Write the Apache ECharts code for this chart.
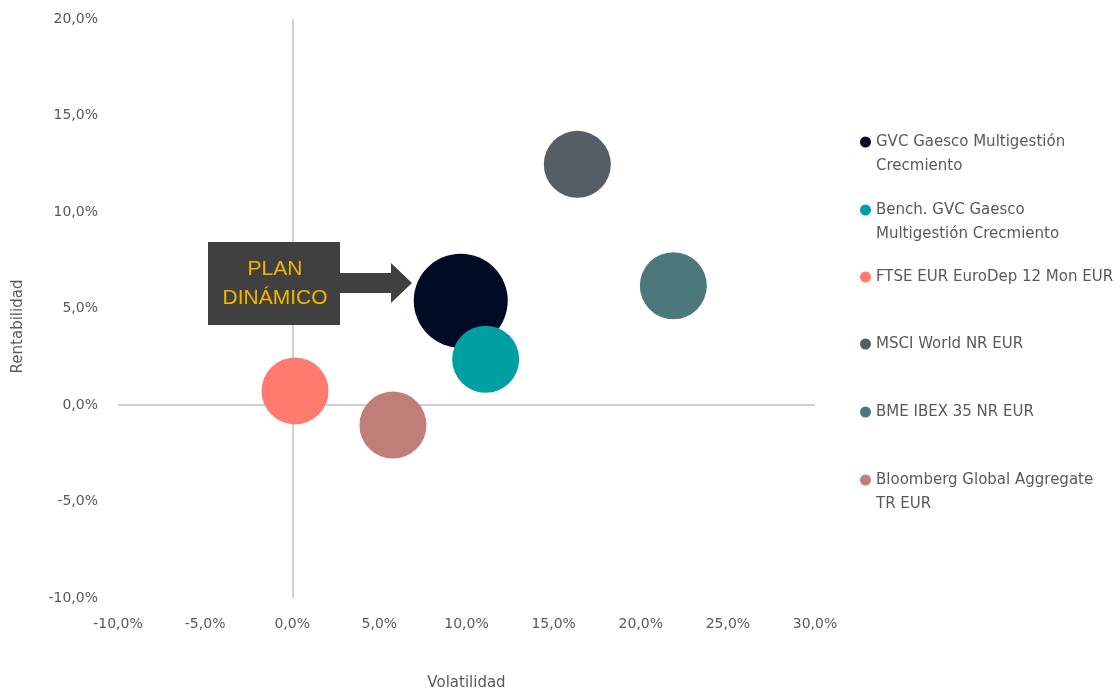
<!DOCTYPE html>
<html>
<head>
<meta charset="utf-8">
<script src="https://cdn.jsdelivr.net/npm/echarts@6/dist/echarts.min.js"></script>
<style>html,body{margin:0;padding:0;background:#fff}#c{width:1120px;height:690px}</style>
</head>
<body>
<div id="c"></div>
<script>
const names = ['GVC Gaesco Multigestión Crecmiento','Bench. GVC Gaesco Multigestión Crecmiento','FTSE EUR EuroDep 12 Mon EUR','MSCI World NR EUR','BME IBEX 35 NR EUR','Bloomberg Global Aggregate TR EUR'];
const legendLabels = ['GVC Gaesco Multigestión\nCrecmiento','Bench. GVC Gaesco\nMultigestión Crecmiento','FTSE EUR EuroDep 12 Mon EUR','MSCI World NR EUR','BME IBEX 35 NR EUR','Bloomberg Global Aggregate\nTR EUR'];
const volatility = [9.67, 11.10, 0.16, 16.36, 21.87, 5.78];
const returns = [5.40, 2.37, 0.73, 12.47, 6.18, -1.04];
const xTicks = {min: -10, max: 30, interval: 5};
const yTicks = {min: -10, max: 20, interval: 5};

const colors = ['#000a24','#009fa1','#ff7b6e','#565e65','#4c787c','#bf7e78'];
const FONT = '"DejaVu Sans", sans-serif';
const fmt = v => v.toFixed(1).replace('.', ',') + '%';

const chart = echarts.init(document.getElementById('c'));
const series = names.map((n, i) => ({
  name: n,
  type: 'scatter',
  data: [[volatility[i], returns[i]]],
  symbolSize: i === 0 ? 94 : 67,
  itemStyle: {color: colors[i], opacity: 1},
  z: 3 + i
}));
series.push({
  type: 'scatter', data: [], silent: true,
  markLine: {
    silent: true, symbol: 'none', label: {show: false},
    lineStyle: {color: '#bfbfbf', width: 1.5, type: 'solid'},
    data: [{xAxis: 0}, {yAxis: 0}]
  }
});
const iconCentres = [142, 210, 277, 344, 412, 480];
const legends = names.map((n, i) => {
  const multi = legendLabels[i].includes('\n');
  return {
    data: [n],
    orient: 'vertical',
    left: 860,
    top: iconCentres[i] - (multi ? 36 : 12),
    padding: 0,
    icon: 'circle',
    itemWidth: 11, itemHeight: 11,
    itemGap: 0,
    selectedMode: false,
    formatter: () => multi ? '\n' + legendLabels[i] : legendLabels[i],
    textStyle: {color: '#595959', fontSize: 15, fontFamily: FONT, lineHeight: 24}
  };
});

chart.setOption({
  animation: false,
  color: colors,
  textStyle: {fontFamily: FONT},
  grid: {left: 118, right: 305, top: 19, bottom: 92, outerBoundsMode: 'none', containLabel: false},
  legend: legends,
  xAxis: {
    type: 'value', min: xTicks.min, max: xTicks.max, interval: xTicks.interval,
    name: 'Volatilidad', nameLocation: 'middle', nameGap: 78,
    nameTextStyle: {color: '#595959', fontSize: 15, fontFamily: FONT},
    axisLine: {show: false}, axisTick: {show: false}, splitLine: {show: false},
    axisLabel: {formatter: fmt, color: '#595959', fontSize: 14, fontFamily: FONT, margin: 19}
  },
  yAxis: {
    type: 'value', min: yTicks.min, max: yTicks.max, interval: yTicks.interval,
    name: 'Rentabilidad', nameLocation: 'middle', nameGap: 92,
    nameTextStyle: {color: '#595959', fontSize: 15, fontFamily: FONT, padding: [0, 36, 0, 0]},
    axisLine: {show: false}, axisTick: {show: false}, splitLine: {show: false},
    axisLabel: {formatter: fmt, color: '#595959', fontSize: 14, fontFamily: FONT, margin: 20}
  },
  graphic: [
    {type: 'rect', shape: {x: 208, y: 242, width: 132, height: 83}, style: {fill: '#404040'}, z: 10},
    {type: 'polygon', shape: {points: [[340, 273], [391, 273], [391, 263], [412, 283], [391, 303], [391, 293], [340, 293]]}, style: {fill: '#404040'}, z: 10},
    {type: 'text', x: 275, y: 284, z: 11,
     style: {text: 'PLAN\nDINÁMICO', fill: '#f2b600', fontSize: 21, fontFamily: '"Liberation Sans", "Open Sans", sans-serif', align: 'center', verticalAlign: 'middle', lineHeight: 29}}
  ],
  series: series
});
</script>
</body>
</html>
